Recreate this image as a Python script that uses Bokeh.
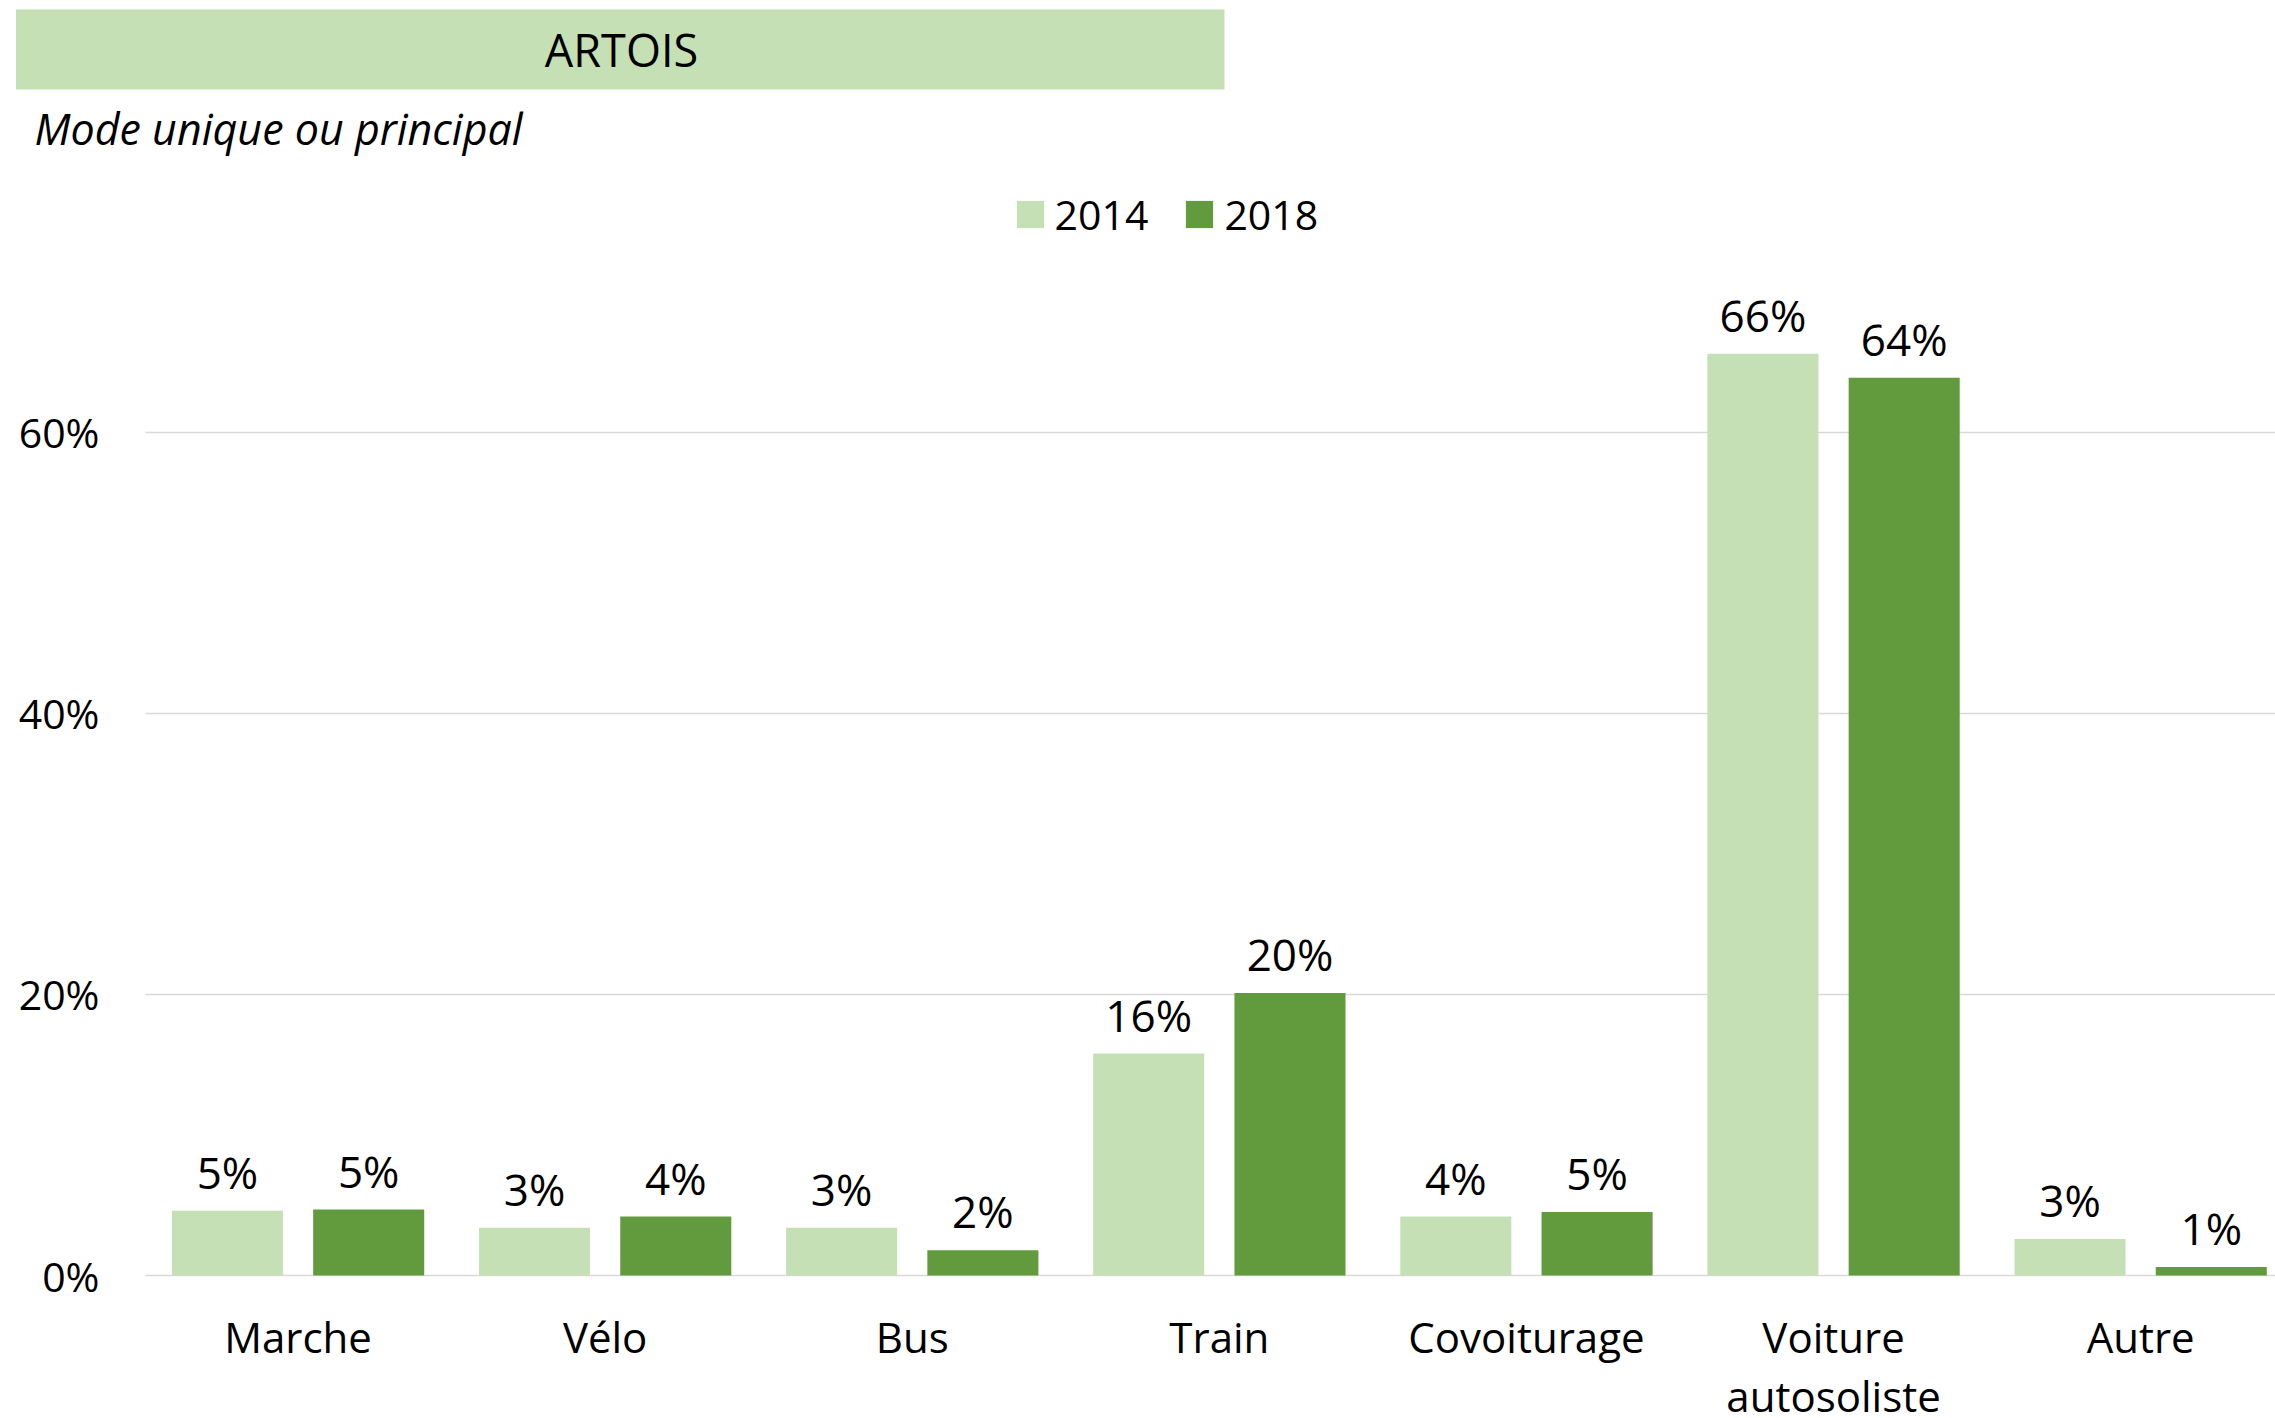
from bokeh.plotting import figure
from bokeh.models import (Range1d, FixedTicker, PrintfTickFormatter, Legend, LegendItem,
                          ColumnDataSource)
from bokeh.embed import file_html
from bokeh.resources import INLINE
from bokeh.core.properties import value

# ---------------- data ----------------
categories = ["Marche", "Vélo", "Bus", "Train", "Covoiturage", "Voiture\nautosoliste", "Autre"]
years = ["2014", "2018"]
values_2014 = [4.6, 3.4, 3.4, 15.8, 4.2, 65.6, 2.6]
values_2018 = [4.7, 4.2, 1.8, 20.1, 4.52, 63.9, 0.6]
y_ticks = [0, 20, 40, 60]
title_text = "ARTOIS"
subtitle_text = "Mode unique ou principal"

# ---------------- layout / style ----------------
FONT = "Open Sans"
C2014 = "#C5E0B4"
C2018 = "#629B3E"
GRID = "#D9D9D9"
W, H = 2275, 1418
AX_L, AX_B = 144, 1275          # page position of the y axis line / of the 0 % line
GROUP_PX = 307.1                 # width of one category slot in px
PX_PER_PCT = 14.051              # px per percentage point
BASE_SHIFT = 0.385               # em correction for alphabetic baseline


def xd(px):
    """page x pixel -> data x"""
    return (px - AX_L) / GROUP_PX - 0.5


def yd(px):
    """page y pixel -> data y"""
    return (AX_B - px) / PX_PER_PCT


p = figure(width=W, height=H,
           x_range=Range1d(xd(0), xd(W)), y_range=Range1d(yd(H), yd(0)),
           output_backend="svg", toolbar_location=None,
           min_border_left=0, min_border_right=0, min_border_top=0, min_border_bottom=0)
p.title.visible = False
p.outline_line_color = None
p.background_fill_color = "white"
p.border_fill_color = "white"

# ---------------- header ----------------
p.quad(left=[xd(15.5)], right=[xd(1224)], top=[yd(9)], bottom=[yd(89)],
       fill_color=C2014, line_color=None)
p.text(x=[xd(621)], y=[yd(66.7)], text=[title_text], text_align="center",
       text_baseline="alphabetic", y_offset=-BASE_SHIFT * 45,
       text_font=value(FONT), text_font_size="45px", text_color="#000000")
SUB_FS = 43
p.text(x=[xd(34)], y=[yd(144.3)], text=[subtitle_text], text_align="left",
       text_baseline="alphabetic", y_offset=-BASE_SHIFT * SUB_FS,
       text_font=value(FONT), text_font_style="italic", text_font_size=f"{SUB_FS}px",
       text_color="#000000")

# ---------------- bars ----------------
n = len(categories)
off = 0.23
bw = 0.3616
idx = list(range(n))
src14 = ColumnDataSource(dict(x=[i - off for i in idx], top=values_2014,
                              lab=[f"{int(v + 0.5)}%" for v in values_2014]))
src18 = ColumnDataSource(dict(x=[i + off for i in idx], top=values_2018,
                              lab=[f"{int(v + 0.5)}%" for v in values_2018]))

r14 = p.vbar(x="x", top="top", bottom=0, width=bw, source=src14, fill_color=C2014, line_color=None)
r18 = p.vbar(x="x", top="top", bottom=0, width=bw, source=src18, fill_color=C2018, line_color=None)

LAB_FS = 44
for s in (src14, src18):
    p.text(x="x", y="top", text="lab", source=s, text_align="center", text_baseline="alphabetic",
           y_offset=-22 - BASE_SHIFT * LAB_FS, text_font=value(FONT),
           text_font_size=f"{LAB_FS}px", text_color="#000000")

# ---------------- axes (fixed inside the canvas) ----------------
first_lines = [c.split("\n")[0] for c in categories]
p.xaxis.fixed_location = 0
p.xaxis.ticker = FixedTicker(ticks=idx)
p.xaxis.major_label_overrides = {i: c for i, c in enumerate(first_lines)}
p.xaxis.axis_line_color = None
p.xaxis.major_tick_line_color = None
p.xaxis.minor_tick_line_color = None
p.xaxis.major_tick_out = 0
p.xaxis.major_tick_in = 0
p.xaxis.major_label_standoff = 32
p.xaxis.major_label_text_font = FONT
p.xaxis.major_label_text_font_size = "42px"
p.xaxis.major_label_text_color = "#000000"

# second lines of the wrapped category labels
sx, sy, st = [], [], []
for i, c in enumerate(categories):
    for k, line in enumerate(c.split("\n")[1:]):
        sx.append(i)
        sy.append(yd(1352.3 + 58.5 * (k + 1)))
        st.append(line)
p.text(x=sx, y=sy, text=st, text_align="center", text_baseline="alphabetic",
       y_offset=-BASE_SHIFT * 42, text_font=value(FONT), text_font_size="42px",
       text_color="#000000")

p.yaxis.fixed_location = xd(AX_L)
p.yaxis.ticker = FixedTicker(ticks=y_ticks)
p.yaxis.formatter = PrintfTickFormatter(format="%d%%")
p.yaxis.axis_line_color = None
p.yaxis.major_tick_line_color = None
p.yaxis.minor_tick_line_color = None
p.yaxis.major_tick_out = 0
p.yaxis.major_tick_in = 0
p.yaxis.major_label_standoff = 45
p.yaxis.major_label_text_font = FONT
p.yaxis.major_label_text_font_size = "41px"
p.yaxis.major_label_text_color = "#000000"

p.xgrid.visible = False
grid_ok = True
try:
    p.ygrid.cross_bounds = (xd(AX_L + 1), xd(W))
except Exception:
    grid_ok = False
if grid_ok:
    p.ygrid.grid_line_color = GRID
    p.ygrid.grid_line_width = 1.5
else:
    p.ygrid.visible = False
    p.segment(x0=[xd(AX_L + 1)] * len(y_ticks), x1=[xd(W)] * len(y_ticks),
              y0=y_ticks, y1=y_ticks, line_color=GRID, line_width=1.5)

# ---------------- legend ----------------
legend = Legend(items=[LegendItem(label=years[0], renderers=[r14]),
                       LegendItem(label=years[1], renderers=[r18])],
                orientation="horizontal", location=(1012.6, H - 242),
                glyph_width=34, glyph_height=34, label_standoff=8, spacing=34,
                padding=0, margin=0, border_line_color=None, background_fill_alpha=0,
                label_text_font=FONT, label_text_font_size="41px", label_text_color="#000000")
p.add_layout(legend)

open("out.html", "w").write(file_html(p, INLINE))
